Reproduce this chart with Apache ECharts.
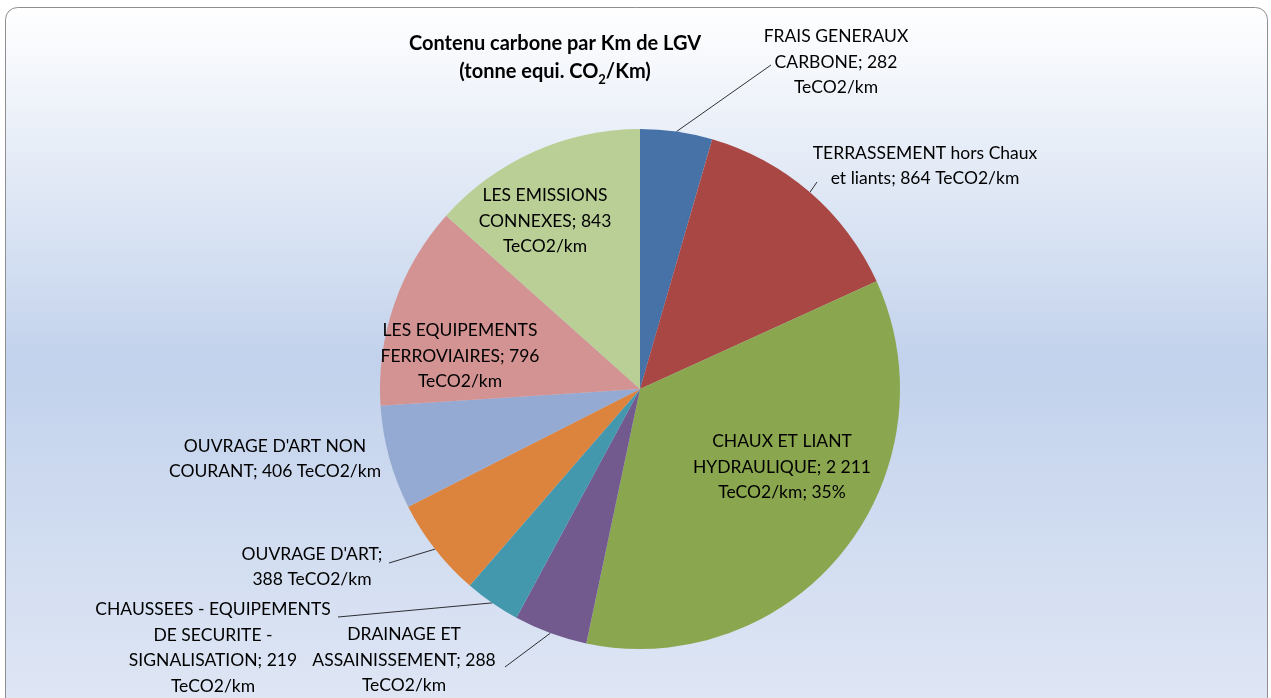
<!DOCTYPE html>
<html>
<head>
<meta charset="utf-8">
<script src="https://cdn.jsdelivr.net/npm/echarts@6/dist/echarts.min.js"></script>
<style>
  html, body { margin: 0; padding: 0; background: #fff; }
  #chart { width: 1271px; height: 698px; }
</style>
</head>
<body>
<div id="chart"></div>
<script>
// data
const categories = [
  'FRAIS GENERAUX CARBONE',
  'TERRASSEMENT hors Chaux et liants',
  'CHAUX ET LIANT HYDRAULIQUE',
  'DRAINAGE ET ASSAINISSEMENT',
  'CHAUSSEES - EQUIPEMENTS DE SECURITE - SIGNALISATION',
  "OUVRAGE D'ART",
  "OUVRAGE D'ART NON COURANT",
  'LES EQUIPEMENTS FERROVIAIRES',
  'LES EMISSIONS CONNEXES'
];
const values = [282, 864, 2211, 288, 219, 388, 406, 796, 843];
const labelTemplates = [
  'FRAIS GENERAUX\nCARBONE; {v}\nTeCO2/km',
  'TERRASSEMENT hors Chaux\net liants; {v} TeCO2/km',
  'CHAUX ET LIANT\nHYDRAULIQUE; {v}\nTeCO2/km; {p}%',
  'DRAINAGE ET\nASSAINISSEMENT; {v}\nTeCO2/km',
  'CHAUSSEES - EQUIPEMENTS\nDE SECURITE -\nSIGNALISATION; {v}\nTeCO2/km',
  "OUVRAGE D'ART;\n{v} TeCO2/km",
  "OUVRAGE D'ART NON\nCOURANT; {v} TeCO2/km",
  'LES EQUIPEMENTS\nFERROVIAIRES; {v}\nTeCO2/km',
  'LES EMISSIONS\nCONNEXES; {v}\nTeCO2/km'
];

// layout / style
const colors = ['#4672a8', '#a94744', '#8aa64e', '#735a8e', '#4398ae', '#dc843d', '#95aad2', '#d29392', '#bacf95'];
const labelPos = [[836, 62], [925, 166], [782, 467], [404, 660], [213, 648], [312, 567], [275, 459], [460, 356], [545, 221]];
// where each leader line meets its label (null = no line)
const lineEnd = [[771, 65], [817, 182], null, [505, 667], [338, 617], [389, 563], null, null, null];
const FONT = 'Lato, "Open Sans", sans-serif';

function fmt(v) {
  return String(v).replace(/\B(?=(\d{3})+(?!\d))/g, ' ');
}

const chart = echarts.init(document.getElementById('chart'));

chart.setOption({
  animation: false,
  graphic: [
    {
      type: 'rect',
      z: -10,
      shape: { x: 5.5, y: 7.5, width: 1262, height: 710, r: 12 },
      style: {
        fill: new echarts.graphic.LinearGradient(0, 0, 0, 1, [
          { offset: 0, color: '#ffffff' },
          { offset: 0.5, color: '#c2d2ec' },
          { offset: 1, color: '#e0e7f5' }
        ]),
        stroke: '#8e8e8e',
        lineWidth: 1
      }
    },
    {
      type: 'text',
      z: 10,
      x: 555,
      y: 58,
      style: {
        text: '{a|Contenu carbone par Km de LGV}\n{a|(tonne equi. CO}{s|2}{a|/Km)}',
        align: 'center',
        verticalAlign: 'middle',
        rich: {
          a: { fontFamily: FONT, fontWeight: 'bold', fontSize: 20, lineHeight: 28, fill: '#000' },
          s: { fontFamily: FONT, fontWeight: 'bold', fontSize: 13, lineHeight: 28, verticalAlign: 'bottom', padding: [11, 0, 0, 0], fill: '#000' }
        }
      }
    }
  ],
  series: [{
    type: 'pie',
    center: [640, 389],
    radius: 260,
    startAngle: 90,
    clockwise: true,
    color: colors,
    data: categories.map((c, i) => ({
      name: c,
      value: values[i],
      labelLine: { show: lineEnd[i] !== null }
    })),
    label: {
      show: true,
      position: 'outside',
      color: '#000',
      fontFamily: FONT,
      fontSize: 17.5,
      lineHeight: 25.5,
      align: 'center',
      formatter: p => labelTemplates[p.dataIndex]
        .replace('{v}', fmt(p.value))
        .replace('{p}', Math.round(p.percent))
    },
    labelLine: {
      lineStyle: { color: '#000', width: 0.8 },
      length: 10,
      length2: 10
    },
    labelLayout: params => {
      const i = params.dataIndex;
      const out = {
        x: labelPos[i][0],
        y: labelPos[i][1],
        align: 'center',
        verticalAlign: 'middle'
      };
      // keep the slice-side point from the library, end at the label
      if (lineEnd[i] && params.labelLinePoints) {
        out.labelLinePoints = [params.labelLinePoints[0], lineEnd[i]];
      }
      return out;
    },
    itemStyle: { borderWidth: 0 },
    emphasis: { disabled: true }
  }]
});
</script>
</body>
</html>
